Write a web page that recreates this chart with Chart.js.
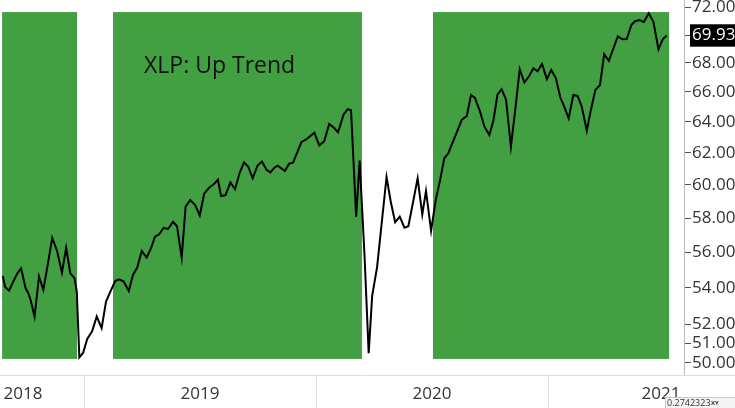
<!DOCTYPE html>
<html>
<head>
<meta charset="utf-8">
<script src="https://cdn.jsdelivr.net/npm/chart.js@4.4.1/dist/chart.umd.min.js"></script>
<style>
  html, body { margin: 0; padding: 0; background: #fff; }
  #wrap { width: 735px; height: 408px; }
</style>
</head>
<body>
<div id="wrap"><canvas id="c" width="735" height="408"></canvas></div>
<script>
// ---- data ----
const dates = [
  2018.650, 2018.660, 2018.677, 2018.695, 2018.713, 2018.729, 2018.748, 2018.760, 2018.770, 2018.787,
  2018.806, 2018.825, 2018.846, 2018.863, 2018.884, 2018.905, 2018.923, 2018.941, 2018.959, 2018.969,
  2018.980, 2018.996, 2019.014, 2019.035, 2019.055, 2019.076, 2019.095, 2019.116, 2019.135, 2019.153,
  2019.171, 2019.193, 2019.211, 2019.229, 2019.249, 2019.270, 2019.289, 2019.306, 2019.324, 2019.343,
  2019.362, 2019.384, 2019.401, 2019.421, 2019.438, 2019.458, 2019.479, 2019.499, 2019.518, 2019.538,
  2019.560, 2019.577, 2019.591, 2019.610, 2019.631, 2019.651, 2019.671, 2019.690, 2019.708, 2019.727,
  2019.748, 2019.767, 2019.787, 2019.804, 2019.820, 2019.835, 2019.866, 2019.884, 2019.901, 2019.937,
  2019.959, 2019.993, 2020.014, 2020.035, 2020.057, 2020.076, 2020.095, 2020.119, 2020.137, 2020.151,
  2020.173, 2020.188, 2020.209, 2020.227, 2020.242, 2020.263, 2020.304, 2020.322, 2020.341, 2020.361,
  2020.381, 2020.398, 2020.420, 2020.438, 2020.458, 2020.474, 2020.496, 2020.516, 2020.535, 2020.553,
  2020.570, 2020.589, 2020.611, 2020.628, 2020.650, 2020.668, 2020.685, 2020.707, 2020.726, 2020.747,
  2020.764, 2020.782, 2020.800, 2020.819, 2020.840, 2020.859, 2020.878, 2020.898, 2020.918, 2020.937,
  2020.955, 2020.974, 2020.995, 2021.014, 2021.034, 2021.053, 2021.069, 2021.089, 2021.109, 2021.127,
  2021.145, 2021.167, 2021.185, 2021.204, 2021.224, 2021.242, 2021.262, 2021.282, 2021.301, 2021.320,
  2021.339, 2021.359, 2021.375, 2021.394, 2021.413, 2021.434, 2021.454, 2021.476, 2021.495, 2021.512
];
const prices = [
  54.66, 54.04, 53.84, 54.34, 54.81, 55.08, 53.99, 53.70, 53.33, 52.42,
  54.63, 53.88, 55.46, 56.83, 56.07, 54.84, 56.25, 54.81, 54.53, 53.78,
  50.28, 50.51, 51.24, 51.64, 52.43, 51.81, 53.24, 53.85, 54.38, 54.47,
  54.34, 53.82, 54.71, 55.11, 56.07, 55.69, 56.23, 56.90, 57.04, 57.41,
  57.35, 57.77, 57.51, 55.69, 58.68, 59.08, 58.78, 58.15, 59.46, 59.81,
  60.05, 60.32, 59.32, 59.37, 60.16, 59.74, 60.75, 61.41, 61.13, 60.41,
  61.20, 61.45, 60.93, 60.78, 61.07, 61.20, 60.86, 61.32, 61.38, 62.69,
  62.88, 63.30, 62.49, 62.74, 63.87, 63.64, 63.33, 64.49, 64.85, 64.77,
  58.08, 61.51, 55.84, 50.50, 53.55, 55.13, 60.49, 58.99, 57.75, 58.08,
  57.43, 57.51, 59.08, 60.41, 58.21, 59.62, 57.25, 59.08, 60.31, 61.66,
  61.98, 62.67, 63.48, 64.13, 64.39, 65.79, 65.60, 64.68, 63.69, 63.15,
  64.05, 65.81, 66.18, 65.48, 62.40, 64.84, 67.55, 66.64, 67.07, 67.62,
  67.41, 67.92, 66.87, 67.50, 66.93, 65.62, 65.05, 64.24, 65.79, 65.73,
  65.03, 63.43, 64.81, 66.13, 66.47, 68.61, 68.14, 69.02, 69.87, 69.66,
  69.68, 70.68, 70.96, 71.05, 70.90, 71.54, 70.92, 68.95, 69.68, 69.93
];
const lastPrice = 69.93;

// up-trend shaded periods (decimal years)
const bandStart = [2018.647, 2019.125, 2020.504];
const bandEnd   = [2018.970, 2020.198, 2021.522];
const bandLow = 50.20;
const bandHigh = 71.63;

// axes
const yTicks = [50, 51, 52, 54, 56, 58, 60, 62, 64, 66, 68, 69.93, 72];
const yearLabels = ['2018', '2019', '2020', '2021'];
const yearLabelPos = [2018.737, 2019.5, 2020.5, 2021.487];
const yearBounds = [2019, 2020, 2021];
const xMin = 2018.638, xMax = 2021.586;
const yMin = 49.38, yMax = 72.52;

const FONT = "'Open Sans', 'Noto Sans', sans-serif";
const GREEN = '#42a042';

const extras = {
  id: 'extras',
  beforeDatasetsDraw(chart) {
    const ctx = chart.ctx, xs = chart.scales.x, ys = chart.scales.y;
    ctx.save();
    ctx.fillStyle = GREEN;
    const yT = ys.getPixelForValue(bandHigh), yB = ys.getPixelForValue(bandLow);
    for (let i = 0; i < bandStart.length; i++) {
      const x0 = xs.getPixelForValue(bandStart[i]), x1 = xs.getPixelForValue(bandEnd[i]);
      ctx.fillRect(x0, yT, x1 - x0, yB - yT);
    }
    ctx.fillStyle = '#111';
    ctx.font = "23px " + FONT;
    ctx.textBaseline = 'alphabetic';
    ctx.textAlign = 'left';
    ctx.fillText('XLP: Up Trend', 144, 73);
    ctx.restore();
  },
  afterDraw(chart) {
    const ctx = chart.ctx, xs = chart.scales.x, ca = chart.chartArea;
    ctx.save();
    ctx.strokeStyle = '#dcdcdc';
    ctx.lineWidth = 1;
    ctx.beginPath();
    ctx.moveTo(0, Math.round(ca.bottom) + 0.5);
    ctx.lineTo(chart.width, Math.round(ca.bottom) + 0.5);
    for (const b of yearBounds) {
      const x = Math.round(xs.getPixelForValue(b)) + 0.5;
      ctx.moveTo(x, ca.bottom);
      ctx.lineTo(x, chart.height);
    }
    ctx.stroke();
    // small coordinate readout box
    ctx.fillStyle = '#f4f4f4';
    ctx.fillRect(665, 397, 70, 11);
    ctx.strokeStyle = '#c8c8c8';
    ctx.strokeRect(665.5, 397.5, 70, 11);
    ctx.fillStyle = '#333';
    ctx.font = "9px " + FONT;
    ctx.textBaseline = 'middle';
    ctx.fillText('0.2742323', 667, 403);
    ctx.font = "bold 6px " + FONT;
    ctx.fillText('XY', 711, 403);
    ctx.restore();
  }
};

new Chart(document.getElementById('c'), {
  type: 'line',
  data: {
    datasets: [{
      data: dates.map((d, i) => ({ x: d, y: prices[i] })),
      borderColor: '#000',
      borderWidth: 2,
      pointRadius: 0,
      tension: 0,
      fill: false
    }]
  },
  options: {
    responsive: false,
    animation: false,
    layout: { padding: 0 },
    plugins: { legend: { display: false }, tooltip: { enabled: false } },
    scales: {
      x: {
        type: 'linear',
        min: xMin, max: xMax,
        grid: { display: false },
        border: { display: false },
        afterBuildTicks(s) { s.ticks = yearLabelPos.map(v => ({ value: v })); },
        afterFit(s) { s.height = 33; s.paddingLeft = 0; s.paddingRight = 0; },
        ticks: {
          autoSkip: false, maxRotation: 0, padding: 1,
          color: '#333',
          font: { family: FONT, size: 17 },
          callback: (v, i) => yearLabels[i]
        }
      },
      y: {
        type: 'logarithmic',
        position: 'right',
        min: yMin, max: yMax,
        grid: { drawOnChartArea: false, drawTicks: true, tickLength: 7, color: '#555' },
        border: { display: true, color: '#bbb' },
        afterBuildTicks(s) { s.ticks = yTicks.map(v => ({ value: v })); },
        afterFit(s) { s.width = 51; s.paddingTop = 0; s.paddingBottom = 0; },
        ticks: {
          autoSkip: false, padding: 1,
          font: { family: FONT, size: 17 },
          color: c => (c.tick && c.tick.value === lastPrice) ? '#fff' : '#333',
          showLabelBackdrop: c => !!(c.tick && c.tick.value === lastPrice),
          backdropColor: '#000',
          backdropPadding: { top: 1, bottom: 1, left: 2, right: 10 },
          callback: v => Number(v).toFixed(2)
        }
      }
    }
  },
  plugins: [extras]
});
</script>
</body>
</html>
